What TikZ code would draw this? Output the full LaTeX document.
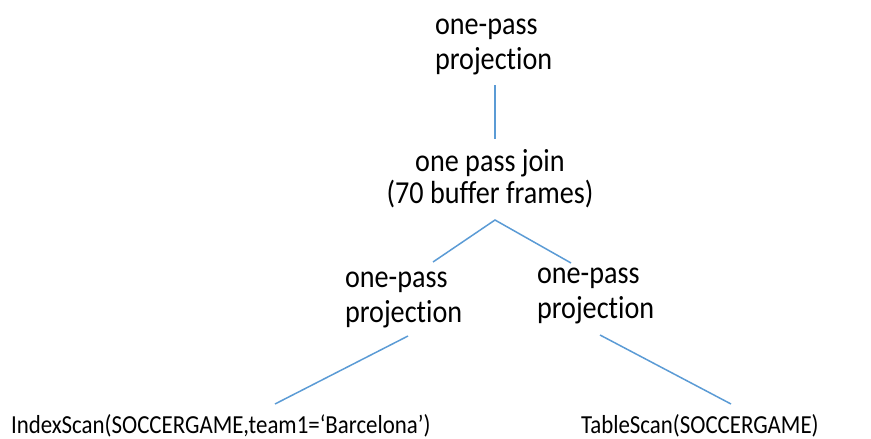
\documentclass[tikz,border=0pt]{standalone}
\usepackage{fontspec}
\setmainfont{Carlito}[FakeStretch=0.88,Ligatures=NoCommon]
\definecolor{edgeblue}{HTML}{5B9BD5}
\begin{document}
\begin{tikzpicture}[x=1pt,y=-1pt,
  label/.style={inner sep=0pt,outer sep=0pt,font=\fontsize{32}{35}\selectfont},
  leaf/.style={inner sep=0pt,outer sep=0pt,font=\fontsize{26}{30}\selectfont},
  edge/.style={draw=edgeblue,line width=1.5pt}]
  \useasboundingbox (0,0) rectangle (871,439);

  % operator nodes of the plan tree (base = baseline of the last line)
  \node[label,align=left,anchor=base west] (top) at (435,69) {one-pass\\projection};
  \node[label,font=\fontsize{32}{32}\selectfont,align=center,anchor=base] (join) at (490,203) {one pass join\\(70 buffer frames)};
  \node[label,align=left,anchor=base west] (lproj) at (345,322) {one-pass\\projection};
  \node[label,align=left,anchor=base west] (rproj) at (537,318) {one-pass\\projection};
  \node[leaf,anchor=base west] (idx) at (11,433) {IndexScan(SOCCERGAME,team1=‘Barcelona’)};
  \node[leaf,anchor=base west] (tbl) at (581,433) {TableScan(SOCCERGAME)};

  % connector end points
  \coordinate (top-end) at (495,85);
  \coordinate (join-top) at (495,139);
  \coordinate (join-apex) at (495,220);
  \coordinate (lproj-top) at (433,262);
  \coordinate (rproj-top) at (571,263);
  \coordinate (lproj-bot) at (408,336);
  \coordinate (rproj-bot) at (600,335);
  \coordinate (idx-top) at (275,404);
  \coordinate (tbl-top) at (731,404);

  \draw[edge] (top-end) -- (join-top);
  \draw[edge] (lproj-top) -- (join-apex) -- (rproj-top);
  \draw[edge] (lproj-bot) -- (idx-top);
  \draw[edge] (rproj-bot) -- (tbl-top);
\end{tikzpicture}
\end{document}
